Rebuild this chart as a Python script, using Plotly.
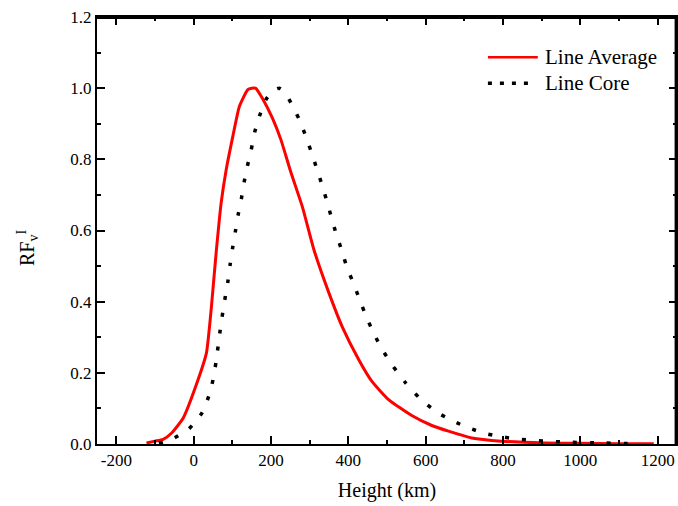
import plotly.graph_objects as go

avg_x = [-122, -100, -79, -57, -27, 7, 33, 46, 58, 71, 84, 101, 118, 140, 150, 160, 178, 204, 226, 251,
         281, 311, 350, 384, 427, 461, 504, 564, 616, 659, 719, 796, 908, 1000, 1100, 1190]
avg_y = [0.003, 0.008, 0.013, 0.031, 0.073, 0.167, 0.256, 0.387, 0.536, 0.677, 0.77, 0.863, 0.948, 0.996,
         1.0, 1.0, 0.971, 0.915, 0.854, 0.765, 0.667, 0.546, 0.424, 0.33, 0.237, 0.176, 0.125, 0.08,
         0.052, 0.036, 0.017, 0.008, 0.003, 0.002, 0.001, 0.0005]

core_x = [-90, -57, -12, 22, 39, 50, 58, 68.5, 75, 82, 89, 94.5, 101, 108, 115, 123.5, 130.5, 139, 149,
          158, 170, 187, 205, 221, 235, 251.5, 273, 290, 304, 318, 332, 344, 357, 369, 383, 397, 414,
          430, 447, 466, 489, 516, 548, 586, 629, 672, 712, 755, 798, 842, 885, 927, 970, 1050, 1150]
core_y = [0.002, 0.013, 0.043, 0.088, 0.134, 0.18, 0.232, 0.319, 0.368, 0.415, 0.46, 0.506, 0.553, 0.598,
          0.644, 0.69, 0.736, 0.781, 0.828, 0.877, 0.921, 0.968, 0.993, 1.0, 0.99, 0.959, 0.912, 0.865,
          0.821, 0.775, 0.728, 0.684, 0.634, 0.589, 0.544, 0.494, 0.45, 0.403, 0.357, 0.31, 0.263, 0.218,
          0.172, 0.127, 0.089, 0.064, 0.045, 0.029, 0.02, 0.013, 0.01, 0.007, 0.005, 0.003, 0.001]

x_ticks = [-200, 0, 200, 400, 600, 800, 1000, 1200]
y_ticks = [0.0, 0.2, 0.4, 0.6, 0.8, 1.0, 1.2]
series_names = ["Line Average", "Line Core"]

FONT = "Liberation Serif"
RED = "#ff0000"
DOT = "4px,13px"

fig = go.Figure()
fig.add_trace(go.Scatter(x=avg_x, y=avg_y, mode="lines", name=series_names[0],
                         line=dict(color=RED, width=3, shape="spline", smoothing=0.5)))
fig.add_trace(go.Scatter(x=core_x, y=core_y, mode="lines", name=series_names[1],
                         line=dict(color="black", width=3.5, dash=DOT, shape="spline", smoothing=0.5)))

axis_common = dict(showline=True, linecolor="black", linewidth=2, mirror="ticks",
                   ticks="inside", ticklen=8, tickwidth=2, tickcolor="black",
                   showgrid=False, zeroline=False, automargin=False, ticklabeloverflow="allow",
                   tickfont=dict(family=FONT, size=17, color="black"))

fig.update_xaxes(range=[-250, 1250], tickvals=x_ticks, ticktext=[str(v) for v in x_ticks],
                 minor=dict(ticks="inside", ticklen=4, tickwidth=2, tickcolor="black", dtick=100),
                 title=dict(text="Height (km)", font=dict(family=FONT, size=20, color="black"),
                            standoff=14),
                 **axis_common)
fig.update_yaxes(range=[0, 1.2], tickvals=y_ticks, ticktext=[f"{v:.1f}" for v in y_ticks],
                 minor=dict(ticks="inside", ticklen=4, tickwidth=2, tickcolor="black", dtick=0.1),
                 **axis_common)

# plot frame (top and right sides drawn explicitly)
fig.add_shape(type="line", xref="paper", yref="paper", x0=0, x1=1, y0=0.998, y1=0.998,
              line=dict(color="black", width=2.5), layer="above")
fig.add_shape(type="line", xref="paper", yref="paper", x0=0.998, x1=0.998, y0=0, y1=1,
              line=dict(color="black", width=2.5), layer="above")

# y-axis title (RF_v^I)
fig.add_annotation(xref="paper", yref="paper", x=-0.12, y=0.46, text="RF<sub>v</sub><sup>I</sup>",
                   textangle=-90, showarrow=False, xanchor="center", yanchor="middle",
                   font=dict(family=FONT, size=20, color="black"))

# legend drawn in paper coordinates
leg_x0, leg_x1, leg_tx = 0.674, 0.760, 0.769
leg_rows = [0.906, 0.845]
fig.add_shape(type="line", xref="paper", yref="paper", x0=leg_x0, x1=leg_x1,
              y0=leg_rows[0], y1=leg_rows[0], line=dict(color=RED, width=2.5))
fig.add_shape(type="line", xref="paper", yref="paper", x0=leg_x0, x1=leg_x1 - 0.01,
              y0=leg_rows[1], y1=leg_rows[1], line=dict(color="black", width=3.5, dash="4px,8px"))
for name, yy in zip(series_names, leg_rows):
    fig.add_annotation(xref="paper", yref="paper", x=leg_tx, y=yy, text=name, showarrow=False,
                       xanchor="left", yanchor="middle", font=dict(family=FONT, size=21, color="black"))

fig.update_layout(
    width=678, height=506,
    margin=dict(l=97, r=1, t=17, b=62),
    paper_bgcolor="white", plot_bgcolor="white",
    font=dict(family=FONT, size=17, color="black"),
    showlegend=False,
)

fig.write_html("out.html", config={"displayModeBar": False},
               post_script="document.body.style.margin='0';document.body.style.overflow='hidden';"
                           "document.documentElement.style.overflow='hidden';")
